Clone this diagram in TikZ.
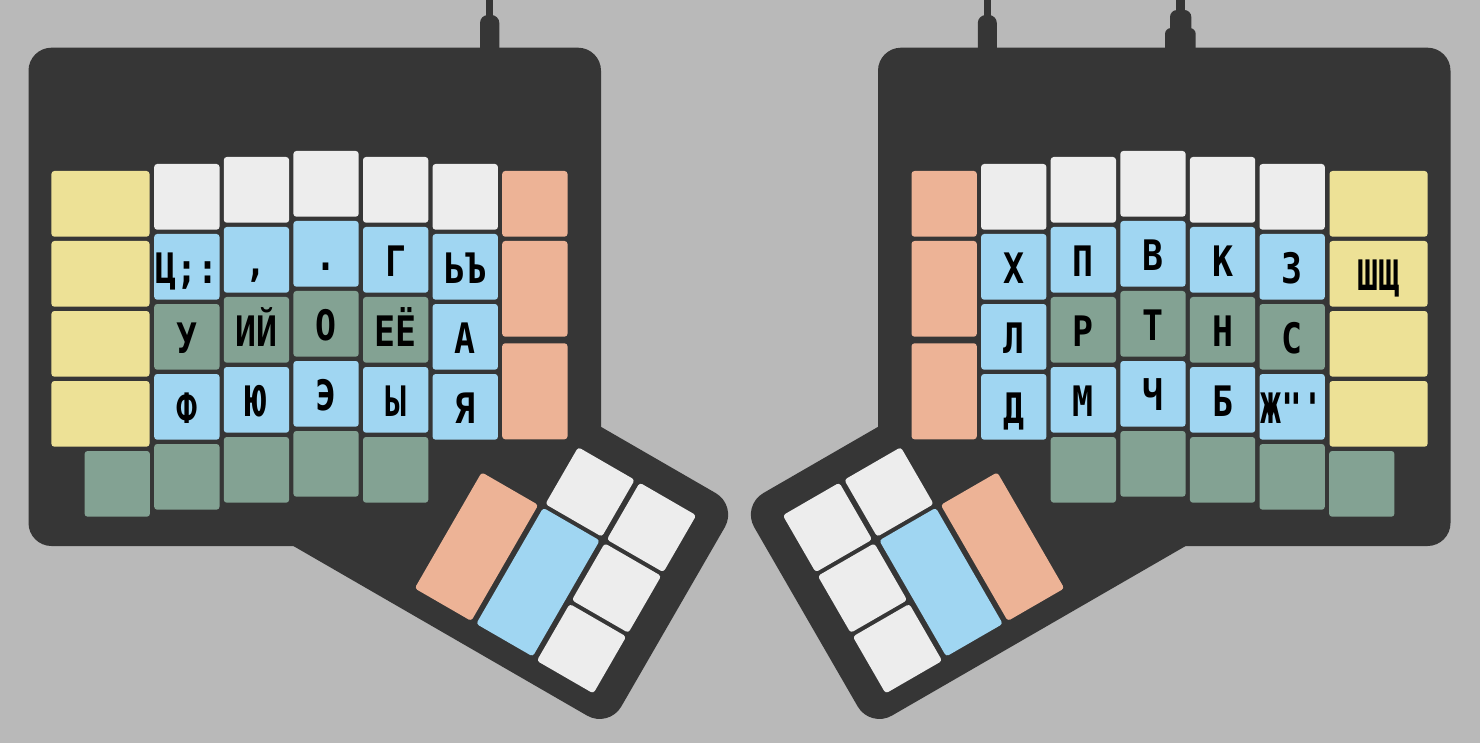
\documentclass[tikz,border=0pt]{standalone}
\usepackage{fontspec}
\setmonofont{DejaVu Sans Mono}[FakeStretch=0.83]
\definecolor{bgcol}{RGB}{185,185,185}
\definecolor{casecol}{RGB}{54,54,54}
\definecolor{kwhite}{RGB}{237,237,237}
\definecolor{kblue}{RGB}{160,214,242}
\definecolor{kgreen}{RGB}{131,162,147}
\definecolor{kyellow}{RGB}{237,225,150}
\definecolor{korange}{RGB}{237,179,150}
\tikzset{
  key/.style={rectangle, rounded corners=3pt, inner sep=0pt, minimum width=65.3pt,
    minimum height=65.7pt, text height=32.5pt, text depth=0pt,
    font=\ttfamily\bfseries\fontsize{42pt}{42pt}\selectfont, text=black},
  widekey/.style={key, minimum width=98.1pt},
}
\newcommand\kk[5]{\node[key,fill=#1] (#2) at (#3,#4) {#5};}
\newcommand\tkey[5]{\fill[#1, rounded corners=3pt] (#2,#3) -- ++(#4,0) -- ++(0,#5) -- ++(-#4,0) -- cycle;}
\newcommand\casebody{%
  \fill[casecol, rounded corners=23pt] (28.5,47.7) rectangle (601,546);
  \begin{scope}[shift={(481.7,472.3)}]
  \begin{scope}[x={(0.866pt,-0.5pt)}, y={(-0.5pt,-0.866pt)}]
    \fill[casecol, rounded corners=25pt] (-200,-99) -- (238,-99) -- (238,158) -- (-200,158) -- cycle;
    \tkey{korange}{0}{0}{65.3}{134}
    \tkey{kblue}{71}{0}{65.3}{134}
    \tkey{kwhite}{71}{-70}{65.3}{65.7}
    \tkey{kwhite}{142}{-70}{65.3}{65.7}
    \tkey{kwhite}{142}{0}{65.3}{65.7}
    \tkey{kwhite}{142}{70}{65.3}{65.7}
  \end{scope}\end{scope}}
\begin{document}
\begin{tikzpicture}[x=1pt,y=-1pt]
\fill[bgcol] (0,0) rectangle (1480,743);
\useasboundingbox (0,0) rectangle (1480,743);
% cables
\fill[casecol] (486,-1) rectangle (492.7,25);
\fill[casecol, rounded corners=8pt] (480,60) -- (480,15) -- (499.3,15) -- (499.3,60) -- cycle;
\fill[casecol] (984,-1) rectangle (990.7,25);
\fill[casecol, rounded corners=8pt] (977.8,60) -- (977.8,15) -- (996.8,15) -- (996.8,60) -- cycle;
\fill[casecol] (1175.7,-1) rectangle (1185.3,20);
\fill[casecol, rounded corners=7pt] (1170,60) -- (1170,10) -- (1191.3,10) -- (1191.3,60) -- cycle;
\fill[casecol, rounded corners=6pt] (1165,60) -- (1165,28) -- (1195.7,28) -- (1195.7,60) -- cycle;
% left half
\casebody
\node[widekey,fill=kyellow] (LY1) at (100.45,203.85) {};
\node[widekey,fill=kyellow] (LY2) at (100.45,273.85) {};
\node[widekey,fill=kyellow] (LY3) at (100.45,343.85) {};
\node[widekey,fill=kyellow] (LY4) at (100.45,413.85) {};
\kk{kgreen}{L05}{117.25}{483.85}{}
\kk{kwhite}{L11}{186.85}{196.85}{}
\kk{kblue}{L12}{186.85}{266.85}{Ц;:}
\kk{kgreen}{L13}{186.85}{336.85}{У}
\kk{kblue}{L14}{186.85}{406.85}{Ф}
\kk{kgreen}{L15}{186.85}{476.85}{}
\kk{kwhite}{L21}{256.45}{189.85}{}
\kk{kblue}{L22}{256.45}{259.85}{,}
\kk{kgreen}{L23}{256.45}{329.85}{ИЙ}
\kk{kblue}{L24}{256.45}{399.85}{Ю}
\kk{kgreen}{L25}{256.45}{469.85}{}
\kk{kwhite}{L31}{326.05}{183.85}{}
\kk{kblue}{L32}{326.05}{253.85}{.}
\kk{kgreen}{L33}{326.05}{323.85}{О}
\kk{kblue}{L34}{326.05}{393.85}{Э}
\kk{kgreen}{L35}{326.05}{463.85}{}
\kk{kwhite}{L41}{395.65}{189.85}{}
\kk{kblue}{L42}{395.65}{259.85}{Г}
\kk{kgreen}{L43}{395.65}{329.85}{ЕЁ}
\kk{kblue}{L44}{395.65}{399.85}{Ы}
\kk{kgreen}{L45}{395.65}{469.85}{}
\kk{kwhite}{L51}{465.25}{196.85}{}
\kk{kblue}{L52}{465.25}{266.85}{ЬЪ}
\kk{kblue}{L53}{465.25}{336.85}{А}
\kk{kblue}{L54}{465.25}{406.85}{Я}
\node[key,fill=korange] (LO1) at (534.85,203.85) {};
\node[key,fill=korange,minimum height=95.7pt] (LO2) at (534.85,288.85) {};
\node[key,fill=korange,minimum height=96pt] (LO3) at (534.85,391.3) {};
% right half (mirrored)
\begin{scope}[xshift=1479pt, xscale=-1]
\casebody
\node[widekey,fill=kyellow] (RY1) at (100.45,203.85) {};
\node[widekey,fill=kyellow] (RY2) at (100.45,273.85) {ШЩ};
\node[widekey,fill=kyellow] (RY3) at (100.45,343.85) {};
\node[widekey,fill=kyellow] (RY4) at (100.45,413.85) {};
\kk{kgreen}{R05}{117.25}{483.85}{}
\kk{kwhite}{R11}{186.85}{196.85}{}
\kk{kblue}{R12}{186.85}{266.85}{З}
\kk{kgreen}{R13}{186.85}{336.85}{С}
\kk{kblue}{R14}{186.85}{406.85}{Ж"'}
\kk{kgreen}{R15}{186.85}{476.85}{}
\kk{kwhite}{R21}{256.45}{189.85}{}
\kk{kblue}{R22}{256.45}{259.85}{К}
\kk{kgreen}{R23}{256.45}{329.85}{Н}
\kk{kblue}{R24}{256.45}{399.85}{Б}
\kk{kgreen}{R25}{256.45}{469.85}{}
\kk{kwhite}{R31}{326.05}{183.85}{}
\kk{kblue}{R32}{326.05}{253.85}{В}
\kk{kgreen}{R33}{326.05}{323.85}{Т}
\kk{kblue}{R34}{326.05}{393.85}{Ч}
\kk{kgreen}{R35}{326.05}{463.85}{}
\kk{kwhite}{R41}{395.65}{189.85}{}
\kk{kblue}{R42}{395.65}{259.85}{П}
\kk{kgreen}{R43}{395.65}{329.85}{Р}
\kk{kblue}{R44}{395.65}{399.85}{М}
\kk{kgreen}{R45}{395.65}{469.85}{}
\kk{kwhite}{R51}{465.25}{196.85}{}
\kk{kblue}{R52}{465.25}{266.85}{Х}
\kk{kblue}{R53}{465.25}{336.85}{Л}
\kk{kblue}{R54}{465.25}{406.85}{Д}
\node[key,fill=korange] (RO1) at (534.85,203.85) {};
\node[key,fill=korange,minimum height=95.7pt] (RO2) at (534.85,288.85) {};
\node[key,fill=korange,minimum height=96pt] (RO3) at (534.85,391.3) {};
\end{scope}
\end{tikzpicture}
\end{document}
